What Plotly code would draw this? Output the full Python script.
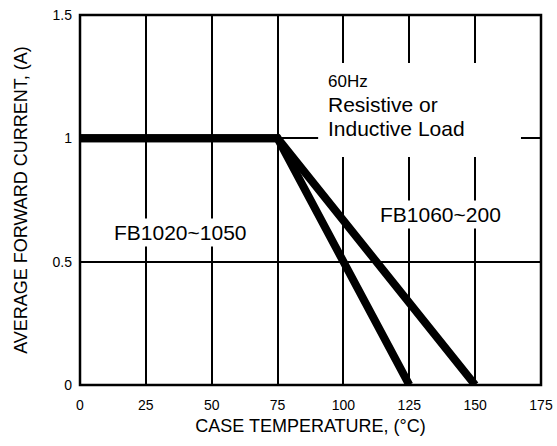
import plotly.graph_objects as go

# Data
temp_low = [0, 75, 125]
current_low = [1, 1, 0]
temp_high = [0, 75, 150]
current_high = [1, 1, 0]
x_ticks = [0, 25, 50, 75, 100, 125, 150, 175]
y_ticks = [0, 0.5, 1, 1.5]
y_tick_text = ["0", "0.5", "1", "1.5"]

FONT = "Liberation Sans, Arial, Helvetica, sans-serif"

fig = go.Figure()
fig.add_trace(go.Scatter(x=temp_low, y=current_low, mode="lines",
                         line=dict(color="black", width=8), name="FB1020~1050",
                         showlegend=False, hoverinfo="skip"))
fig.add_trace(go.Scatter(x=temp_high, y=current_high, mode="lines",
                         line=dict(color="black", width=8), name="FB1060~200",
                         showlegend=False, hoverinfo="skip"))

# white box behind the condition text
fig.add_shape(type="rect", xref="x", yref="y", x0=90.4, x1=167.4, y0=0.924, y1=1.305,
              fillcolor="white", line=dict(width=0), layer="above")
# plot frame
fig.add_shape(type="rect", xref="paper", yref="paper", x0=0, x1=1, y0=0, y1=1,
              fillcolor="rgba(0,0,0,0)", line=dict(color="black", width=2.5), layer="above")

fig.add_annotation(x=93.4, y=(385 - 81) / 246.7, xref="x", yref="y", text="60Hz",
                   showarrow=False, xanchor="left", yanchor="middle",
                   font=dict(family=FONT, size=17, color="black"))
fig.add_annotation(x=93.4, y=(385 - 104) / 246.7, xref="x", yref="y", text="Resistive or",
                   showarrow=False, xanchor="left", yanchor="middle",
                   font=dict(family=FONT, size=21, color="black"))
fig.add_annotation(x=93.4, y=(385 - 128) / 246.7, xref="x", yref="y", text="Inductive Load",
                   showarrow=False, xanchor="left", yanchor="middle",
                   font=dict(family=FONT, size=21, color="black"))

fig.add_annotation(x=38.3, y=0.62, xref="x", yref="y", text="FB1020~1050",
                   showarrow=False, xanchor="center", yanchor="middle",
                   bgcolor="white", borderpad=2,
                   font=dict(family=FONT, size=21, color="black"))
fig.add_annotation(x=136.7, y=0.69, xref="x", yref="y", text="FB1060~200",
                   showarrow=False, xanchor="center", yanchor="middle",
                   bgcolor="white", borderpad=2,
                   font=dict(family=FONT, size=21, color="black"))

fig.update_layout(
    width=557, height=446,
    margin=dict(l=80, r=16, t=15, b=61, pad=0),
    paper_bgcolor="white", plot_bgcolor="white",
    font=dict(family=FONT, color="black"),
    showlegend=False,
    xaxis=dict(range=[0, 175], tickvals=x_ticks, ticks="", showgrid=True,
               gridcolor="black", gridwidth=2, zeroline=False,
               showline=False,
               tickfont=dict(family=FONT, size=14, color="black"),
               ticklabelstandoff=10, ticklabeloverflow="allow", automargin=False,
               title=dict(text="CASE TEMPERATURE, (°C)", standoff=7,
                          font=dict(family=FONT, size=18, color="black"))),
    yaxis=dict(range=[0, 1.5], tickvals=y_ticks, ticktext=y_tick_text, ticks="",
               showgrid=True, gridcolor="black", gridwidth=2, zeroline=False,
               showline=False,
               tickfont=dict(family=FONT, size=14, color="black"),
               ticklabelstandoff=7, ticklabeloverflow="allow", automargin=False,
               title=dict(text="AVERAGE FORWARD CURRENT, (A)", standoff=20,
                          font=dict(family=FONT, size=18, color="black"))),
)

fig.write_html("out.html",
               config={"displayModeBar": False, "staticPlot": True},
               post_script="document.body.style.margin='0';document.body.style.overflow='hidden';")
